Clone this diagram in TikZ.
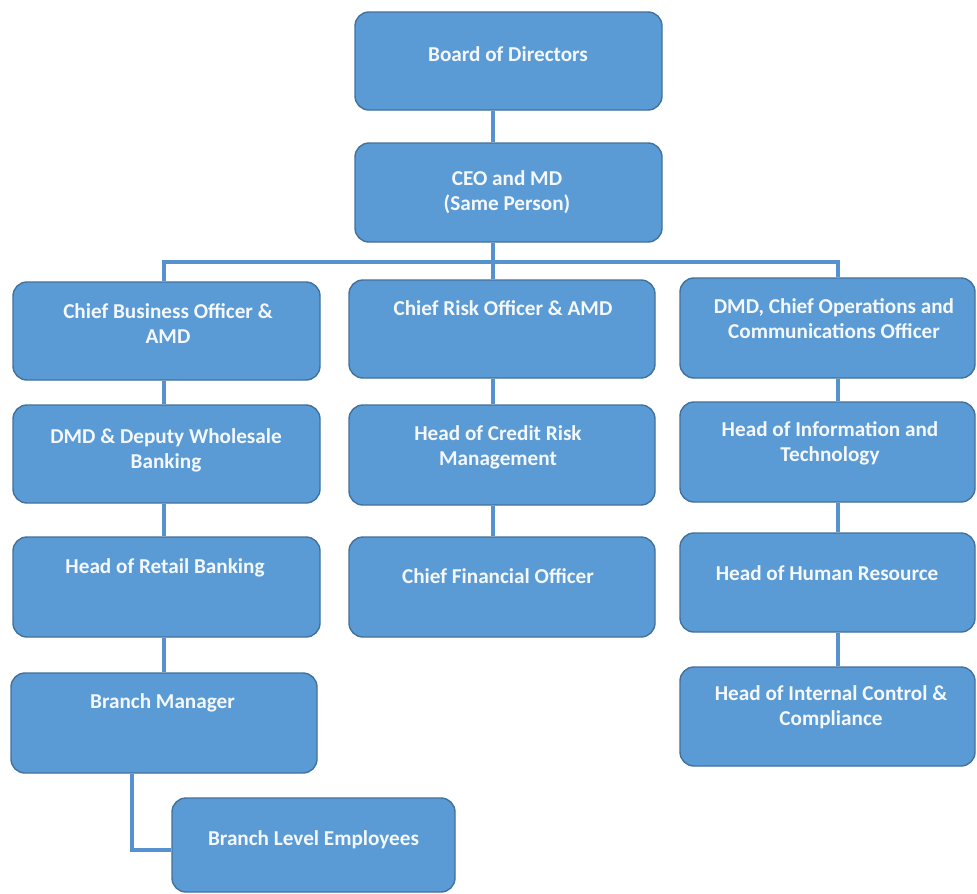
\documentclass[tikz,border=0pt]{standalone}
\usepackage{fontspec}
\setmainfont{Carlito}
\definecolor{boxfill}{HTML}{5B9BD5}
\definecolor{boxline}{HTML}{41719C}
\definecolor{connc}{HTML}{5592CF}
\definecolor{txtc}{HTML}{F4F8FC}
\begin{document}
\begin{tikzpicture}[x=1pt,y=-1pt,
  orgbox/.style={draw=boxline, fill=boxfill, line width=1.4pt, rounded corners=14pt, inner sep=0pt},
  lbl/.style={font=\fontsize{21.2}{25}\selectfont\bfseries, text=txtc, align=center, inner sep=0pt, anchor=north},
  conn/.style={draw=connc, line width=4pt, line join=miter}]
\fill[white] (0,0) rectangle (977,894);
\useasboundingbox (0,0) rectangle (977,894);
% boxes
\node[orgbox, minimum width=307pt, minimum height=98pt] (board) at (508.5,61) {};
\node[orgbox, minimum width=307pt, minimum height=99pt] (ceo) at (508.5,192.5) {};
\node[orgbox, minimum width=307pt, minimum height=98pt] (cbo) at (166.5,331) {};
\node[orgbox, minimum width=306pt, minimum height=98pt] (cro) at (502,329) {};
\node[orgbox, minimum width=295pt, minimum height=100pt] (ops) at (827.5,328) {};
\node[orgbox, minimum width=307pt, minimum height=98pt] (dmd) at (166.5,454) {};
\node[orgbox, minimum width=306pt, minimum height=100pt] (crm) at (502,455) {};
\node[orgbox, minimum width=295pt, minimum height=100pt] (it) at (827.5,452) {};
\node[orgbox, minimum width=307pt, minimum height=100pt] (retail) at (166.5,587) {};
\node[orgbox, minimum width=306pt, minimum height=100pt] (cfo) at (502,587) {};
\node[orgbox, minimum width=295pt, minimum height=99pt] (hr) at (827.5,582.5) {};
\node[orgbox, minimum width=306pt, minimum height=100pt] (bm) at (164,723) {};
\node[orgbox, minimum width=295pt, minimum height=99pt] (ic) at (827.5,716.5) {};
\node[orgbox, minimum width=283pt, minimum height=94pt] (ble) at (313.5,845) {};
% texts
\node[lbl] (board-t) at (508,43.5) {\strut Board of Directors};
\node[lbl] (ceo-t) at (507,167.5) {\strut CEO and MD\\(Same Person)};
\node[lbl] (cbo-t) at (168,300.5) {\strut Chief Business Officer \&\\AMD};
\node[lbl] (cro-t) at (503,297.5) {\strut Chief Risk Officer \& AMD};
\node[lbl] (ops-t) at (834,295.5) {\strut DMD, Chief Operations and\\Communications Officer};
\node[lbl] (dmd-t) at (166,425.5) {\strut DMD \& Deputy Wholesale\\Banking};
\node[lbl] (crm-t) at (498,422.5) {\strut Head of Credit Risk\\Management};
\node[lbl] (it-t) at (830,418.5) {\strut Head of Information and\\Technology};
\node[lbl] (retail-t) at (165,555.5) {\strut Head of Retail Banking};
\node[lbl] (cfo-t) at (498,565.5) {\strut Chief Financial Officer};
\node[lbl] (hr-t) at (827,562.5) {\strut Head of Human Resource};
\node[lbl] (bm-t) at (162.5,690.5) {\strut Branch Manager};
\node[lbl] (ic-t) at (831,682.5) {\strut Head of Internal Control \&\\Compliance};
\node[lbl] (ble-t) at (313.5,827.5) {\strut Branch Level Employees};
% connector columns
\coordinate (col1) at (164,0);
\coordinate (col2) at (493,0);
\coordinate (col3) at (838,0);
\coordinate (bus) at (0,262);
\coordinate (elbow) at (132,850);
% connectors
\draw[conn] (board.south -| col2) -- (ceo.north -| col2);
\draw[conn] (ceo.south -| col2) -- (cro.north -| col2);
\draw[conn] (cbo.north -| col1) -- (col1 |- bus) -- (col3 |- bus) -- (ops.north -| col3);
\draw[conn] (cbo.south -| col1) -- (dmd.north -| col1);
\draw[conn] (dmd.south -| col1) -- (retail.north -| col1);
\draw[conn] (retail.south -| col1) -- (bm.north -| col1);
\draw[conn] (bm.south -| elbow) -- (elbow) -- (ble.west |- elbow);
\draw[conn] (cro.south -| col2) -- (crm.north -| col2);
\draw[conn] (crm.south -| col2) -- (cfo.north -| col2);
\draw[conn] (ops.south -| col3) -- (it.north -| col3);
\draw[conn] (it.south -| col3) -- (hr.north -| col3);
\draw[conn] (hr.south -| col3) -- (ic.north -| col3);
\end{tikzpicture}
\end{document}
